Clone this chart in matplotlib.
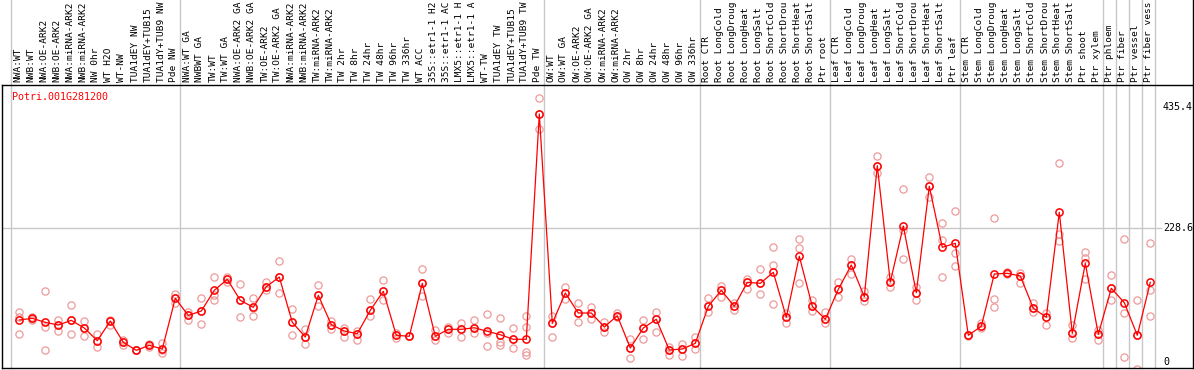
import numpy as np
import matplotlib
matplotlib.use("Agg")
import matplotlib.pyplot as plt

gene = "Potri.001G281200"

# sample names as far as the reference shows them (the long ones run off the top)
samples = [
    "NWA:WT", "NWB:WT", "NWA:OE-ARK2", "NWB:OE-ARK2", "NWA:miRNA-ARK2", "NWB:miRNA-ARK2",
    "NW 0hr", "WT H2O", "WT-NW", "TUA1dEY NW", "TUA1dEY+TUB15", "TUA1dY+TUB9 NW", "Pde NW",
    "NWA:WT GA", "NWBWT GA", "TW:WT", "TW:WT GA", "NWA:OE-ARK2 GA", "NWB:OE-ARK2 GA",
    "TW:OE-ARK2", "TW:OE-ARK2 GA", "NWA:miRNA-ARK2", "NWB:miRNA-ARK2", "TW:miRNA-ARK2",
    "TW:miRNA-ARK2", "TW 2hr", "TW 8hr", "TW 24hr", "TW 48hr", "TW 96hr", "TW 336hr",
    "WT ACC", "35S::etr1-1 H2", "35S::etr1-1 AC", "LMX5::etr1-1 H", "LMX5::etr1-1 A",
    "WT-TW", "TUA1dEY TW", "TUA1dEY+TUB15", "TUA1dY+TUB9 TW", "Pde TW",
    "OW:WT", "OW:WT GA", "OW:OE-ARK2", "OW:OE-ARK2 GA", "OW:miRNA-ARK2", "OW:miRNA-ARK2",
    "OW 2hr", "OW 8hr", "OW 24hr", "OW 48hr", "OW 96hr", "OW 336hr",
    "Root CTR", "Root LongCold", "Root LongDroug", "Root LongHeat", "Root LongSalt",
    "Root ShortCold", "Root ShortDrou", "Root ShortHeat", "Root ShortSalt", "Ptr root",
    "Leaf CTR", "Leaf LongCold", "Leaf LongDroug", "Leaf LongHeat", "Leaf LongSalt",
    "Leaf ShortCold", "Leaf ShortDrou", "Leaf ShortHeat", "Leaf ShortSalt", "Ptr leaf",
    "Stem CTR", "Stem LongCold", "Stem LongDroug", "Stem LongHeat", "Stem LongSalt",
    "Stem ShortCold", "Stem ShortDrou", "Stem ShortHeat", "Stem ShortSalt",
    "Ptr shoot", "Ptr xylem", "Ptr phloem", "Ptr fiber", "Ptr vessel", "Ptr fiber vess",
]

means = [
    71.8, 74.6, 67.8, 63.2, 71.2, 58.1, 36.5, 70.0, 33.7, 20.1, 28.6, 22.3, 108.7,
    79.7, 87.1, 122.4, 141.1, 105.3, 93.4, 128.5, 145.0, 67.8, 42.8, 113.9, 63.8,
    53.0, 48.4, 88.3, 120.7, 45.7, 44.0, 134.3, 44.0, 55.9, 55.9, 58.6, 52.5, 46.7,
    38.9, 38.9, 423.0,
    66.1, 117.8, 83.7, 83.7, 59.8, 79.1, 24.0, 58.1, 73.0, 20.6, 22.3, 32.0,
    95.1, 122.4, 95.1, 136.0, 134.3, 153.1, 76.4, 180.4, 95.1, 73.0,
    124.1, 165.5, 111.5, 334.8, 136.5, 232.0, 118.3, 299.7, 195.7, 202.5,
    45.7, 61.0, 150.2, 151.4, 146.8, 91.7, 76.4, 255.4, 49.1,
    168.4, 47.4, 125.8, 101.3, 45.7, 136.0,
]

replicates = [
    [85.9, 77.4, 47.9], [76.6, 71.0, 74.0], [121.2, 59.3, 20.1], [71.8, 63.2, 52.5],
    [97.3, 71.8, 47.9], [70.6, 58.1, 44.5], [47.4, 36.5, 26.3], [71.8, 63.2, 70.0],
    [37.7, 33.7, 28.6], [20.1, 20.1, 20.1], [30.3, 26.3, 29.0], [32.0, 20.6, 15.0],
    [115.6, 108.8, 100.2],
    [85.9, 71.8, 79.8], [108.8, 87.0, 65.0], [145.0, 114.4, 105.9], [145.6, 137.0, 141.0],
    [132.6, 105.3, 77.4], [108.8, 79.1, 93.0], [137.0, 122.9, 128.0], [172.4, 118.3, 145.0],
    [90.5, 46.2, 68.0], [57.0, 30.3, 42.8], [130.9, 95.6, 113.9], [70.0, 56.4, 63.8],
    [57.6, 42.3, 53.0], [52.5, 37.7, 48.4], [107.0, 78.6, 88.3], [139.4, 105.3, 120.7],
    [49.0, 40.6, 45.7], [44.0, 44.0, 44.0], [158.2, 112.7, 134.3], [54.7, 37.7, 44.0],
    [60.3, 50.1, 55.9], [66.1, 42.3, 55.9], [71.8, 49.1, 58.6], [82.0, 49.0, 26.9],
    [74.7, 34.8, 29.2], [58.1, 24.0, 38.9], [78.6, 60.3, 17.7, 12.1], [449.7, 397.4, 423.0],
    [79.1, 43.3, 66.1], [128.0, 107.6, 117.8], [100.2, 67.8, 83.7], [94.4, 73.0, 83.7],
    [68.9, 50.8, 59.8], [84.2, 77.4, 79.1], [38.9, 6.5, 24.0], [71.8, 39.9, 58.1],
    [85.9, 50.8, 73.0], [26.3, 12.1, 20.6], [30.3, 10.9, 22.3], [42.3, 21.8, 32.0],
    [108.8, 85.9, 95.1], [129.7, 111.5, 122.4], [100.2, 88.8, 95.1], [141.7, 124.6, 136.0],
    [158.2, 115.6, 134.3], [195.7, 165.0, 98.5], [84.2, 67.2, 76.4], [209.9, 195.0, 134.3],
    [105.9, 87.6, 95.1], [84.9, 67.2, 73.0],
    [136.0, 111.0, 124.1], [175.8, 149.7, 165.5], [121.2, 104.7, 111.5], [351.4, 321.9, 334.8],
    [145.6, 128.5, 136.5], [295.1, 225.2, 175.2], [128.5, 105.9, 118.3], [315.0, 280.9, 299.7],
    [236.6, 208.1, 144.6], [257.1, 185.5, 163.8],
    [45.7, 44.0, 47.0], [66.1, 57.6, 61.0], [245.1, 107.0, 94.4], [153.0, 150.0, 151.4],
    [152.4, 135.4, 146.8], [100.2, 85.9, 91.7], [84.2, 62.7, 76.4], [338.9, 218.4, 207.0],
    [63.2, 40.6, 49.1],
    [187.2, 178.0, 141.2], [54.7, 37.7, 47.4], [148.0, 105.9, 125.8], [209.3, 83.2, 8.2],
    [105.9, -11.2, 45.7], [203.5, 122.9, 78.6],
]

# first sample of each group (vertical separators)
group_starts = [0, 13, 41, 53, 63, 73, 84, 85, 86, 87, 88]
ytick_vals = [435.4, 228.6, 0]

W, H = 1194, 370
fig = plt.figure(figsize=(W / 100, H / 100), dpi=100)
ax = fig.add_axes([2 / W, 1 - 368 / H, (1193 - 2) / W, (368 - 85) / H])

x = np.arange(len(samples))
grid_c = "#c8c8c8"
mono = "DejaVu Sans Mono"

ax.set_xlim((2 - 19.3) / 13, (1193 - 19.3) / 13)
ax.set_ylim((362.1 - 368) / 0.5866, (362.1 - 85) / 0.5866)

# separators run through the label band as well
for g in group_starts:
    ax.axvline(g - 0.64, ymin=0, ymax=368 / 283, color=grid_c, lw=1.0,
               clip_on=False, zorder=0)
ax.plot([ax.get_xlim()[0], (1161 - 19.3) / 13], [228.6, 228.6], color=grid_c,
        lw=1.0, zorder=0)

for i, reps in enumerate(replicates):
    ax.plot([i] * len(reps), reps, "o", mfc="none", mec="#ec9a9a", ms=5.2, mew=0.9,
            zorder=2)

ax.plot(x, means, "-", color="red", lw=0.9, zorder=3)
ax.plot(x, means, "o", mfc="none", mec="red", ms=5.2, mew=1.1, zorder=4)

for i, s in enumerate(samples):
    ax.text(i - 0.1, 1 + 3 / 283, s, transform=ax.get_xaxis_transform(),
            rotation=90, ha="center", va="bottom", family=mono, fontsize=6.8,
            clip_on=False)

for v in ytick_vals:
    ax.text((1163 - 19.3) / 13, v, f"{v:g}", ha="left", va="center",
            family=mono, fontsize=7.2)

ax.text(10 / 1191, 1 - 12 / 283, gene, transform=ax.transAxes, color="red",
        ha="left", va="center", family=mono, fontsize=7.2)

ax.set_xticks([])
ax.set_yticks([])
for sp in ax.spines.values():
    sp.set_color("black")
    sp.set_linewidth(1.0)

# right border continues to the top edge
fig.add_artist(plt.Line2D([1193 / W, 1193 / W], [1 - 85 / H, 1.0], color="black",
                          lw=1.0, transform=fig.transFigure))

fig.savefig("out.png", dpi=100)
